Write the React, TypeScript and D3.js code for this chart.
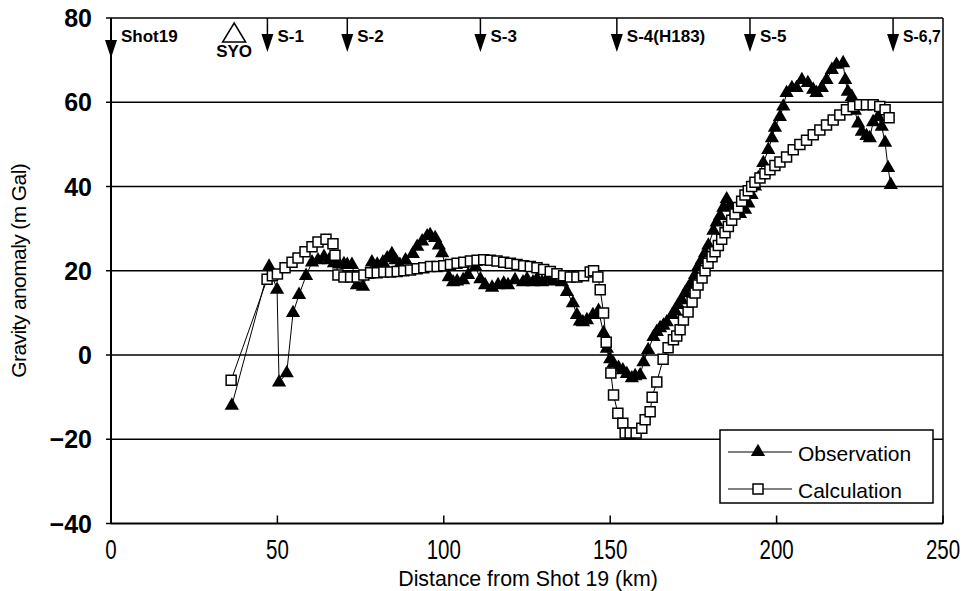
import React from "react";
import * as d3 from "d3";

const obsKm = [36.3,47.5,49.9,50.5,52.8,54.7,56.5,58.6,60.4,62.2,64,65.5,67,68.5,70,71,72.4,73.9,75.7,77,78.4,80,81.7,83,84.4,85.5,86.8,88.5,90.7,92,93.5,95,95.9,97.4,98.5,99.5,100.5,101.5,102.8,104,105.8,107.3,109.5,111,112.4,114.5,116.3,118,119.3,121.4,123.8,125,126.8,128,129.5,131,133,135.5,137,138.8,140,140.9,141.8,143,144.8,146.5,148,149,150,151,152.5,153.8,155,156.5,157.5,159,160,161.4,163,164,165,166,167,168.6,169.5,170.4,171.5,172.5,173.5,174.6,175.5,176.4,177.5,178.5,179.5,181,182,183,184,185,186,187.5,189,190.5,191.5,192.5,193.5,194.5,196,197.5,198.6,199.5,201,202,203,204.6,206,207.6,209.4,211,212,213.6,215,216.6,218,220,220.6,221.4,222.6,223.5,224.5,225.6,227,228,229,230.5,231.6,232.6,233.5,234.3];
const obsVal = [-12,21,15.5,-6.5,-4.3,10,14.3,18.8,22,22.5,23.3,22.5,21.8,21.5,21.6,21.4,21.4,16.6,16.2,19,22,21.5,22,23,24,22.5,21.4,22.5,24,25.7,27,28.2,28.5,27.8,26,24.2,21,18.5,17.3,17.5,17.8,19,21,18,16.6,16,16.6,17,16.6,17.8,17.3,18,17.3,18,17.3,18,17.5,17.3,15,12.3,9.5,8,7.8,8.3,9.5,10.5,5.2,1.5,-1,-2,-3,-3.6,-4.5,-5.5,-5,-4.8,-1.7,1.2,4.3,5.5,6.4,7,7.8,9.5,10.5,11.9,13,14.7,16,17.3,19,20.9,22.5,24.2,26,29.5,31.5,33,35,37,35.5,34,33.5,34.5,36,38,40,42,45.6,48.7,51.5,54,56.5,59,62.2,63.4,63.4,65.3,64.6,63,62.2,63.4,65.3,67.7,68.9,69.3,65.3,62.5,61.3,58,55,53,52,51.5,55.3,56.5,54.2,50.4,44.4,40.4];

const calKm = [36.1,46.9,48.5,50,52.3,54.4,56.2,58.3,60.4,62.2,64.6,66.7,67.3,68.2,70,72,74,76,78,80,82,84,86,88,90,92,94,96,98,100,102,104,106,108,110,112,114,116,118,120,122,124,126,128,130,132,134,136,138,140,142,144,145,146.3,147,148,148.8,150.2,151,152.3,153.8,154.5,156,157.8,159.5,160.5,162,162.6,164,165.9,167.4,169,170,171,172,173.4,174.6,175.5,176.4,177.6,178.5,179.4,180.6,181.5,182.5,183.5,184.5,185.5,186.5,187.5,188.5,189.5,190.5,191.5,192.5,193.5,195,196.5,198,199.5,201,203,205,207,209,211,213,215,217,219,221,223,225,227,229,231,232.6,233.8];
const calVal = [-6,18,18.8,19.2,20.7,22,23,24.5,25.7,26.8,27.5,26.4,23.7,19,18.5,18.5,18.5,19,19.5,19.5,19.7,19.7,19.8,20,20.2,20.5,20.7,21,21,21.2,21.5,21.8,22,22.3,22.5,22.6,22.5,22.3,22,21.8,21.5,21.2,21,20.7,20.3,19.8,19.3,18.8,18.5,18.5,18.8,19.7,20,18.5,15.5,10,3,-4.3,-9.5,-13.8,-16.2,-18.5,-18.5,-18.5,-17.4,-15.4,-13.5,-10,-6.4,-1,1.7,3.6,4.5,6,8.3,10.2,12.6,14.7,16.6,18.3,20,21.8,23.3,24.5,26,27.5,29,30.5,32,33.5,35,36.5,38,39,40,41,42,43,44,45,45.8,47,48.7,50,51,52.3,53.4,54.6,55.8,57,58.2,59,59.4,59.4,59.4,59,58.2,56.3];

const xTicks = [0, 50, 100, 150, 200, 250];
const yTicks = [-40, -20, 0, 20, 40, 60, 80];
const siteLabels = ["Shot19", "S-1", "S-2", "S-3", "S-4(H183)", "S-5", "S-6,7"];
const siteKm = [0, 47, 71, 111, 152, 192, 235];
const syoKm = 37;
const seriesNames = ["Observation", "Calculation"];

const W = 964, H = 591;
const L = 111, R = 943, T = 18, B = 523.5;

export default function App() {
  const x = d3.scaleLinear().domain([0, 250]).range([L, R]);
  const y = d3.scaleLinear().domain([-40, 80]).range([B, T]);
  const obsPts: [number, number][] = obsKm.map((k, i) => [x(k), y(obsVal[i])]);
  const calPts: [number, number][] = calKm.map((k, i) => [x(k), y(calVal[i])]);
  const lineGen = d3.line();
  const tri = d3.symbol(d3.symbolTriangle, 88)();
  const sq = d3.symbol(d3.symbolSquare, 100)();
  const font = "'Liberation Sans', Arial, sans-serif";

  return (
    <svg width={W} height={H} style={{ position: "absolute", left: 0, top: 0, background: "#fff" }}>
      <rect x={0} y={0} width={W} height={H} fill="#fff" />
      {yTicks.filter(t => t > -40 && t < 80).map(t => (
        <line key={t} x1={L} x2={R} y1={y(t)} y2={y(t)} stroke="#000" strokeWidth={1.5} />
      ))}
      <line x1={L} x2={R} y1={T} y2={T} stroke="#000" strokeWidth={1.5} />
      <line x1={R} x2={R} y1={T} y2={B} stroke="#000" strokeWidth={1.5} />
      <line x1={L} x2={L} y1={T} y2={B} stroke="#000" strokeWidth={2} />
      <line x1={L} x2={R} y1={B} y2={B} stroke="#000" strokeWidth={2} />
      {yTicks.map(t => (
        <g key={t}>
          <line x1={L - 5} x2={L} y1={y(t)} y2={y(t)} stroke="#000" strokeWidth={1.5} />
          <text x={92} y={y(t) + 9} textAnchor="end" fontFamily={font} fontWeight="bold" fontSize={25}>{t < 0 ? "\u2212" + Math.abs(t) : t}</text>
        </g>
      ))}
      {xTicks.map(t => (
        <g key={t}>
          <line x1={x(t)} x2={x(t)} y1={B} y2={B - 8} stroke="#000" strokeWidth={1.5} />
          <text x={x(t)} y={559} textAnchor="middle" fontFamily={font} fontSize={27} transform={`translate(${x(t)},0) scale(0.76,1) translate(${-x(t)},0)`}>{t}</text>
        </g>
      ))}
      <text x={528} y={586} textAnchor="middle" fontFamily={font} fontSize={22} transform={`translate(528,0) scale(0.97,1) translate(-528,0)`}>Distance from Shot 19 (km)</text>
      <text transform={`translate(26,${(T + B) / 2}) rotate(-90)`} textAnchor="middle" fontFamily={font} fontSize={21} letterSpacing={-0.6}>Gravity anomaly (m Gal)</text>

      {siteKm.map((k, i) => {
        const px = x(k);
        const tip = i === 0 ? 58 : 52;
        return (
          <g key={i}>
            <line x1={px} x2={px} y1={T} y2={tip - 10} stroke="#000" strokeWidth={1.5} />
            <path d={`M${px - 6},${tip - 18} L${px + 6},${tip - 18} L${px},${tip} Z`} fill="#000" />
            <text x={px + 10} y={42} fontFamily={font} fontWeight="bold" fontSize={17} transform={i === 6 ? `translate(${px + 10},0) scale(0.93,1) translate(${-(px + 10)},0)` : undefined}>{siteLabels[i]}</text>
          </g>
        );
      })}
      <path d={`M${x(syoKm)},23 L${x(syoKm) + 11.5},42 L${x(syoKm) - 11.5},42 Z`} fill="#fff" stroke="#000" strokeWidth={1.5} />
      <text x={x(syoKm)} y={57} textAnchor="middle" fontFamily={font} fontWeight="bold" fontSize={17}>SYO</text>

      <path d={lineGen(obsPts) || ""} fill="none" stroke="#000" strokeWidth={1} />
      {obsPts.map((p, i) => (
        <path key={"o" + i} d={tri || ""} transform={`translate(${p[0]},${p[1]})`} fill="#000" />
      ))}
      <path d={lineGen(calPts) || ""} fill="none" stroke="#000" strokeWidth={1} />
      {calPts.map((p, i) => (
        <path key={"c" + i} d={sq || ""} transform={`translate(${p[0]},${p[1]})`} fill="#fff" stroke="#000" strokeWidth={1.5} />
      ))}

      <rect x={720} y={430} width={213} height={73} fill="#fff" stroke="#000" strokeWidth={1.5} />
      <line x1={728} x2={792} y1={452} y2={452} stroke="#000" strokeWidth={1} />
      <path d={tri || ""} transform="translate(758,452)" fill="#000" />
      <text x={798} y={461} fontFamily={font} fontSize={21}>{seriesNames[0]}</text>
      <line x1={728} x2={792} y1={489} y2={489} stroke="#000" strokeWidth={1} />
      <path d={sq || ""} transform="translate(758,489)" fill="#fff" stroke="#000" strokeWidth={1.5} />
      <text x={798} y={498} fontFamily={font} fontSize={21}>{seriesNames[1]}</text>
    </svg>
  );
}
